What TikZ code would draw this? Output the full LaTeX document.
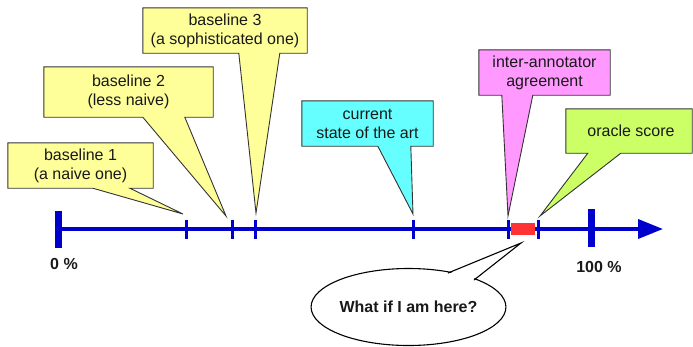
\documentclass[tikz,border=0pt]{standalone}
\usepackage{fontspec}
\setmainfont{Liberation Sans}
\usetikzlibrary{arrows.meta,shapes.geometric,calc}
\pgfdeclarelayer{background}
\pgfsetlayers{background,main}
\definecolor{yellowc}{HTML}{FFFF99}
\definecolor{cyanc}{HTML}{66FFFF}
\definecolor{pinkc}{HTML}{FF99FF}
\definecolor{greenc}{HTML}{CCFF66}
\definecolor{bluec}{HTML}{0000CC}
\definecolor{redc}{HTML}{FF3333}
\definecolor{edgec}{HTML}{333333}
\tikzset{
  boxtext/.style={inner sep=0pt, align=center, font=\fontsize{16}{19}\selectfont, text=black!90},
  callout/.style={draw=edgec, line width=0.9pt, line join=miter},
  axisline/.style={draw=bluec, line width=3.6pt},
  smalltick/.style={draw=bluec, line width=3pt},
  bigtick/.style={draw=bluec, line width=7pt},
  pct/.style={font=\bfseries\fontsize{16}{19}\selectfont, text=black!90, inner sep=0pt},
}
\begin{document}
\begin{tikzpicture}[x=1pt,y=-1pt]
\useasboundingbox (0,0) rectangle (693,346);

% tick tip coordinates
\coordinate (t1) at (183,214);
\coordinate (t2) at (226,216);
\coordinate (t3) at (256,213);
\coordinate (t4) at (413,214);
\coordinate (t5) at (508,216);
\coordinate (t6) at (540,216);

% callout boxes
\node[boxtext, minimum width=145pt, minimum height=45pt] (b1) at (80.5,165.5) {baseline 1\\(a naive one)};
\node[boxtext, minimum width=169pt, minimum height=50pt] (b2) at (128.5,92) {baseline 2\\(less naive)};
\node[boxtext, minimum width=164pt, minimum height=45pt] (b3) at (225,30.5) {baseline 3\\(a sophisticated one)};
\node[boxtext, minimum width=131pt, minimum height=45pt] (s) at (367.5,123.5) {current\\state of the art};
\node[boxtext, minimum width=131pt, minimum height=45pt] (ia) at (544.5,72.5) {inter-annotator\\agreement};
\node[boxtext, minimum width=126pt, minimum height=44pt] (oc) at (629,131) {};
\node[boxtext] (octext) at (631,131) {oracle score};

\begin{pgfonlayer}{background}
\path[callout, fill=yellowc] (b1.north west) -- (b1.north east) -- (b1.south east)
  -- ([xshift=122pt]b1.south west) -- (t1) -- ([xshift=85pt]b1.south west) -- (b1.south west) -- cycle;
\path[callout, fill=yellowc] (b2.north west) -- (b2.north east) -- (b2.south east)
  -- ([xshift=141pt]b2.south west) -- (t2) -- ([xshift=99pt]b2.south west) -- (b2.south west) -- cycle;
\path[callout, fill=yellowc] (b3.north west) -- (b3.north east) -- (b3.south east)
  -- ([xshift=137pt]b3.south west) -- (t3) -- ([xshift=96pt]b3.south west) -- (b3.south west) -- cycle;
\path[callout, fill=cyanc] (s.north west) -- (s.north east) -- (s.south east)
  -- ([xshift=109pt]s.south west) -- (t4) -- ([xshift=76pt]s.south west) -- (s.south west) -- cycle;
\path[callout, fill=pinkc] (ia.north west) -- (ia.north east) -- (ia.south east)
  -- ([xshift=54pt]ia.south west) -- (t5) -- ([xshift=23pt]ia.south west) -- (ia.south west) -- cycle;
\path[callout, fill=greenc] (oc.north west) -- (oc.north east) -- (oc.south east)
  -- ([xshift=55pt]oc.south west) -- (t6) -- ([xshift=22pt]oc.south west) -- (oc.south west) -- cycle;
\end{pgfonlayer}

% axis
\coordinate (a0) at (58,229);
\coordinate (a1) at (663,229);
\draw[axisline, -{Triangle[length=25pt,width=19pt]}] (a0) -- (a1);
\fill[redc] (511,223) rectangle (535,235);
\draw[bigtick] (58,211) -- (58,248);
\draw[bigtick] (591,209) -- (591,247);
\foreach \x in {186,232,255,413,508,538} {
  \draw[smalltick] (\x,220) -- (\x,239);
}

\node[pct] (p0) at (64,264) {0 \%};
\node[pct] (p100) at (599,267) {100 \%};

% speech bubble
\node[ellipse, draw=black, line width=1.1pt, fill=white, minimum width=184pt, minimum height=77pt, inner sep=0pt,
  font=\bfseries\fontsize{16}{19}\selectfont, text=black!90] (q) at (408.5,307) {What if I am here?};
\coordinate (qt) at (521,243);
\coordinate (qa) at (448,273);
\coordinate (qb) at (474,280);
\fill[white] ($(qa)!0.06!(q.center)$) -- (qt) -- ($(qb)!0.06!(q.center)$) -- cycle;
\draw[line width=1.1pt, line join=miter] (qa) -- (qt) -- (qb);
\end{tikzpicture}
\end{document}
